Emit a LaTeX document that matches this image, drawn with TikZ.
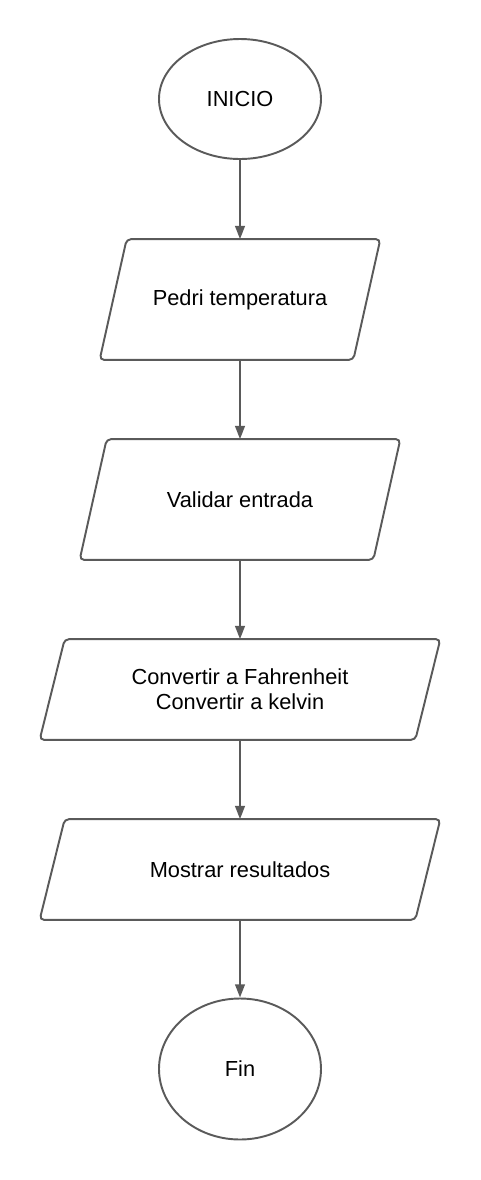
\documentclass[tikz,border=0pt]{standalone}
\usepackage{fontspec}
\setmainfont{Liberation Sans}
\usetikzlibrary{shapes.geometric,arrows.meta}
\definecolor{linegray}{HTML}{5A5A5A}

\begin{document}
\begin{tikzpicture}
    \useasboundingbox (0,0) rectangle (9.6,-23.6);
    %Terminals
     \begin{scope}[every node/.style={ellipse,draw=linegray,line width=1.1pt,
       minimum width=3.24cm,font=\fontsize{12.4}{14.2}\selectfont}]
       \node[minimum height=2.4cm] (inicio) at (4.8,-1.98) {INICIO};
       \node[minimum height=2.82cm] (fin) at (4.8,-21.38) {Fin};
    \end{scope}

    %Data blocks
     \begin{scope}[every node/.style={rectangle,inner sep=0pt,align=center,
       font=\fontsize{12.4}{14.2}\selectfont}]
       \node[minimum width=5.6cm,minimum height=2.4cm] (pedir) at (4.8,-5.99) {Pedri temperatura};
       \node[minimum width=6.4cm,minimum height=2.4cm] (validar) at (4.8,-9.99) {Validar entrada};
       \node[minimum width=8cm,minimum height=2cm] (convertir) at (4.8,-13.79) {Convertir a Fahrenheit\\Convertir a kelvin\hspace{0.2cm}};
       \node[minimum width=8cm,minimum height=2cm] (mostrar) at (4.8,-17.39) {Mostrar resultados};
    \end{scope}

    \begin{scope}[draw=linegray,line width=1.1pt,rounded corners=2.5pt]
      \foreach \blk/\sl in {pedir/0.54,validar/0.54,convertir/0.5,mostrar/0.5}
        \draw ([xshift=\sl cm]\blk.north west) -- (\blk.north east)
          -- ([xshift=-\sl cm]\blk.south east) -- (\blk.south west) -- cycle;
    \end{scope}

    \begin{scope}[every edge/.style={draw=linegray,line width=1.1pt,
       -{Triangle[width=5.5pt,length=7.5pt]}}]
      \path (inicio) edge (pedir);
      \path (pedir) edge (validar);
      \path (validar) edge (convertir);
      \path (convertir) edge (mostrar);
      \path (mostrar) edge (fin);
    \end{scope}
  \end{tikzpicture}
\end{document}
